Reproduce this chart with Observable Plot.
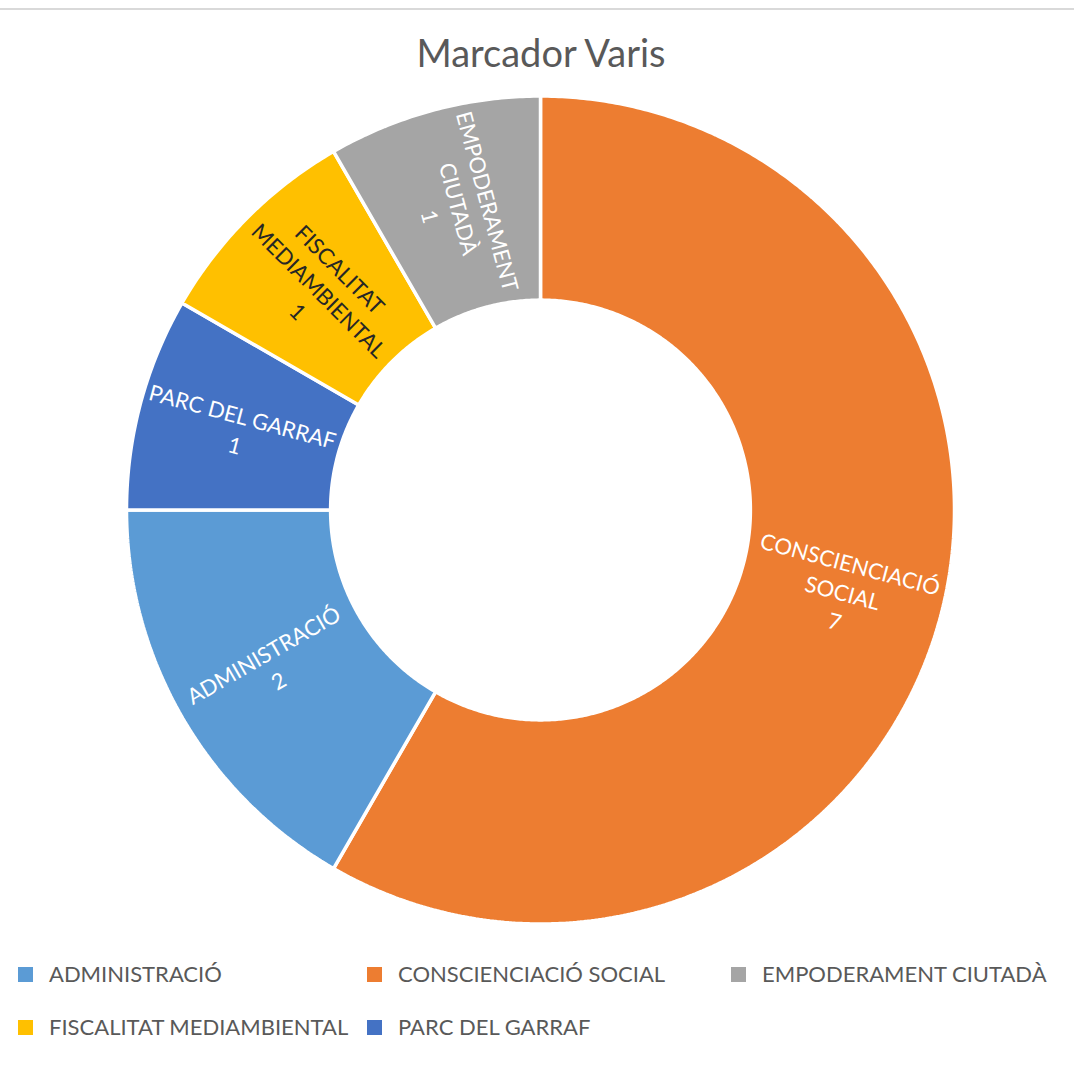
<!DOCTYPE html>
<html>
<head>
<meta charset="utf-8">
<script src="https://cdn.jsdelivr.net/npm/d3@7"></script>
<script src="https://cdn.jsdelivr.net/npm/@observablehq/plot@0.6"></script>
<style>
  html, body { margin: 0; padding: 0; background: #fff; }
  body { width: 1074px; height: 1075px; position: relative; overflow: hidden; font-family: Lato, "Open Sans", sans-serif; }
  #topline { position: absolute; left: 0; top: 8px; width: 1074px; height: 2px; background: #d9d9d9; }
  #title { position: absolute; left: 4px; top: 33px; width: 1074px; text-align: center; font-size: 38px; line-height: 38px; color: #595959; }
  #chart { position: absolute; left: 0; top: 0; }
  #legend { position: absolute; left: 18px; top: 963px; display: grid; grid-template-columns: 349px 364px auto; row-gap: 31px; }
  .item { display: flex; align-items: center; height: 22px; font-size: 22px; line-height: 22px; color: #595959; white-space: nowrap; }
  .sw { width: 15px; height: 15px; margin-right: 16px; flex: none; }
</style>
</head>
<body>
<div id="topline"></div>
<div id="title">Marcador Varis</div>
<div id="chart"></div>
<div id="legend"></div>
<script>
// ---- data ----
const categories = ["ADMINISTRACIÓ", "CONSCIENCIACIÓ SOCIAL", "EMPODERAMENT CIUTADÀ", "FISCALITAT MEDIAMBIENTAL", "PARC DEL GARRAF"];
const values = [2, 7, 1, 1, 1];
const colors = ["#5B9BD5", "#ED7D31", "#A5A5A5", "#FFC000", "#4472C4"];
const labelLines = ["ADMINISTRACIÓ", "CONSCIENCIACIÓ\nSOCIAL", "EMPODERAMENT\nCIUTADÀ", "FISCALITAT\nMEDIAMBIENTAL", "PARC DEL GARRAF"];
const labelColors = ["white", "white", "white", "#262626", "white"];
// clockwise order of slices from 12 o'clock
const sliceOrder = ["CONSCIENCIACIÓ SOCIAL", "ADMINISTRACIÓ", "PARC DEL GARRAF", "FISCALITAT MEDIAMBIENTAL", "EMPODERAMENT CIUTADÀ"];

const innerRatio = 0.507;
const labelRadius = 0.755;

const table = categories.map((c, i) => ({category: c, value: values[i], label: labelLines[i] + "\n" + values[i], textColor: labelColors[i]}));
const ordered = sliceOrder.map(c => table.find(d => d.category === c));
const arcs = d3.pie().sort(null).value(d => d.value)(ordered);

// ring polygon points: outer arc (x1,y1) and inner arc (x2,y2) per angle step
const ringPts = [];
for (const a of arcs) {
  const n = Math.max(2, Math.ceil((a.endAngle - a.startAngle) / (Math.PI / 360)));
  for (let k = 0; k <= n; k++) {
    const t = a.startAngle + (a.endAngle - a.startAngle) * k / n;
    ringPts.push({
      category: a.data.category,
      x1: Math.sin(t), y1: Math.cos(t),
      x2: innerRatio * Math.sin(t), y2: innerRatio * Math.cos(t)
    });
  }
}

const labels = arcs.map(a => {
  const mid = (a.startAngle + a.endAngle) / 2;
  let deg = mid * 180 / Math.PI - 90;
  if (deg > 90) deg -= 180;
  return {
    ...a.data,
    x: labelRadius * Math.sin(mid),
    y: labelRadius * Math.cos(mid),
    rotate: deg
  };
});

const chart = Plot.plot({
  width: 1074,
  height: 940,
  margin: 0,
  style: {fontFamily: "Lato, 'Open Sans', sans-serif", fontSize: "22px", background: "transparent"},
  x: {domain: [-1, 1], range: [126.5, 954.5], axis: null},
  y: {domain: [-1, 1], range: [924, 96], axis: null},
  color: {domain: categories, range: colors},
  marks: [
    Plot.area(ringPts, {x1: "x1", y1: "y1", x2: "x2", y2: "y2", z: "category", fill: "category", stroke: "white", strokeWidth: 3.5, strokeLinejoin: "miter"}),
    Plot.text(labels.filter(d => d.textColor === "white"), {x: "x", y: "y", text: "label", rotate: "rotate", fill: "white", fontSize: 22, lineHeight: 1.35}),
    Plot.text(labels.filter(d => d.textColor !== "white"), {x: "x", y: "y", text: "label", rotate: "rotate", fill: "#262626", fontSize: 22, lineHeight: 1.35})
  ]
});
document.getElementById("chart").appendChild(chart);

// legend from Plot's color scale
const cs = chart.scale("color");
const legend = d3.select("#legend");
cs.domain.forEach((c, i) => {
  const it = legend.append("div").attr("class", "item");
  it.append("span").attr("class", "sw").style("background", cs.range[i]);
  it.append("span").text(c);
});
</script>
</body>
</html>
